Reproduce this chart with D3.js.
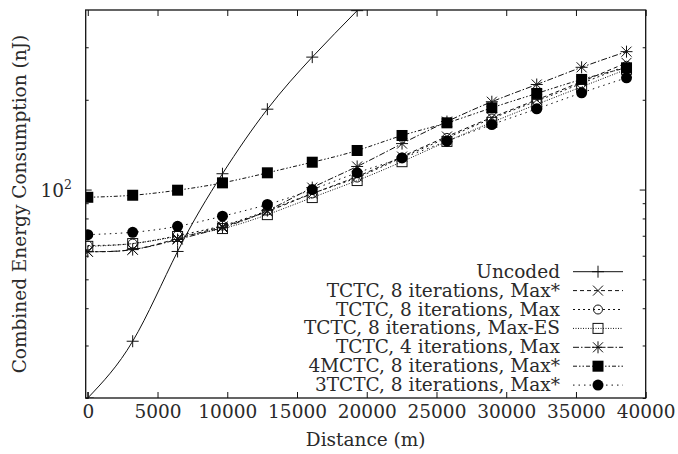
<!DOCTYPE html>
<html>
<head>
<meta charset="utf-8">
<script src="https://cdn.jsdelivr.net/npm/d3@7/dist/d3.min.js"></script>
<style>
  body { margin: 0; background: #fff; }
  svg { display: block; }
  text { font-family: "DejaVu Serif", "Liberation Serif", serif; fill: #2a2a2a; }
</style>
</head>
<body>
<div id="chart"></div>
<script>
// distances: points every 2 miles
const distances = [0, 3218.7, 6437.4, 9656.1, 12874.8, 16093.4, 19312.1,
                   22530.8, 25749.5, 28968.2, 32186.9, 35405.6, 38624.3];

const uncoded     = [20, 31, 62, 113, 186, 278, 398];
const tctc8MaxS   = [61.9, 62.9, 68.5, 75.2, 84.4, 96.9, 110.6, 129, 150.6, 174.4, 200, 230, 266];
const tctc8Max    = [64.9, 65.9, 70.1, 75.7, 85.0, 97.0, 109.7, 128, 149, 173, 198, 227, 260];
const tctc8MaxES  = [64.5, 65.9, 69.6, 74.0, 82.4, 94.0, 107.2, 124, 145, 168, 193, 221, 253];
const tctc4Max    = [61.9, 62.9, 68.0, 74.6, 85.0, 101.5, 119.5, 142.6, 169, 197, 225, 257, 290];
const mctc4MaxS   = [94.2, 95.7, 99.5, 105.3, 113.8, 123.5, 135.2, 151.8, 167.4, 188, 210, 234, 256];
const tctc3MaxS   = [70.6, 71.9, 75.3, 81.4, 89.1, 100, 113.8, 127.7, 145.3, 165.2, 186.5, 211, 237];

const seriesNames = ["Uncoded", "TCTC, 8 iterations, Max*", "TCTC, 8 iterations, Max",
  "TCTC, 8 iterations, Max-ES", "TCTC, 4 iterations, Max",
  "4MCTC, 8 iterations, Max*", "3TCTC, 8 iterations, Max*"];
const seriesValues = [uncoded, tctc8MaxS, tctc8Max, tctc8MaxES, tctc4Max, mctc4MaxS, tctc3MaxS];

const xTickValues = [0, 5000, 10000, 15000, 20000, 25000, 30000, 35000, 40000];
const yMajorTicks = [100];
const yMinorTicks = [20, 30, 40, 50, 60, 70, 80, 90, 200, 300];

const styles = [
  {marker: "plus",    dash: null},
  {marker: "cross",   dash: "4,3"},
  {marker: "circle",  dash: "2,3"},
  {marker: "square",  dash: "1,1.5"},
  {marker: "star",    dash: "6,2,1.5,2"},
  {marker: "fsquare", dash: "4,2,1.5,2,1.5,2"},
  {marker: "fcircle", dash: "1.5,4"}
];

const W = 678, H = 454;
const pLeft = 85.7, pRight = 645.7, pTop = 10, pBottom = 398;
const FS = 18.5;

const svg = d3.select("#chart").append("svg").attr("width", W).attr("height", H);

const x = d3.scaleLinear().domain([-150, 40000]).range([pLeft, pRight]);
const y = d3.scaleLog().domain([20, 400]).range([pBottom, pTop]);

svg.append("defs").append("clipPath").attr("id", "clip")
  .append("rect").attr("x", pLeft).attr("y", pTop)
  .attr("width", pRight - pLeft).attr("height", pBottom - pTop);

// axes with inward ticks
function styleAxis(g) {
  g.select(".domain").remove();
  g.selectAll(".tick line").attr("stroke", "#111").attr("stroke-width", 1);
  g.selectAll("text").attr("font-size", FS).attr("fill", "#2a2a2a").attr("font-family", "DejaVu Serif, serif");
}
svg.append("g").attr("transform", `translate(0,${pBottom})`)
  .call(d3.axisBottom(x).tickValues(xTickValues).tickSize(-6).tickPadding(7).tickFormat(d3.format("d")))
  .call(styleAxis);
svg.append("g").attr("transform", `translate(0,${pTop})`)
  .call(d3.axisTop(x).tickValues(xTickValues).tickSize(-6).tickFormat(""))
  .call(styleAxis);
svg.append("g").attr("transform", `translate(${pLeft},0)`)
  .call(d3.axisLeft(y).tickValues(yMajorTicks).tickSize(-6).tickFormat(""))
  .call(styleAxis);
svg.append("g").attr("transform", `translate(${pLeft},0)`)
  .call(d3.axisLeft(y).tickValues(yMinorTicks).tickSize(-3).tickFormat(""))
  .call(styleAxis);
svg.append("g").attr("transform", `translate(${pRight},0)`)
  .call(d3.axisRight(y).tickValues(yMajorTicks).tickSize(-6).tickFormat(""))
  .call(styleAxis);
svg.append("g").attr("transform", `translate(${pRight},0)`)
  .call(d3.axisRight(y).tickValues(yMinorTicks).tickSize(-3).tickFormat(""))
  .call(styleAxis);

// 10^2 label
yMajorTicks.forEach(v => {
  const t = svg.append("text").attr("x", 72).attr("y", y(v) + 7)
    .attr("text-anchor", "end").attr("font-size", FS);
  t.append("tspan").text("10");
  t.append("tspan").attr("font-size", 12.5).attr("dy", -8).text("2");
});

// axis titles
svg.append("text").attr("x", (pLeft + pRight) / 2).attr("y", 446)
  .attr("text-anchor", "middle").attr("font-size", FS).text("Distance (m)");
svg.append("text").attr("transform", `translate(25.5,${(pTop + pBottom) / 2}) rotate(-90)`)
  .attr("text-anchor", "middle").attr("font-size", FS).text("Combined Energy Consumption (nJ)");

// markers
function drawMarker(g, type, cx, cy) {
  const s = g.append("g").attr("transform", `translate(${cx},${cy})`);
  if (type === "plus") {
    s.append("path").attr("d", "M-6,0H6M0,-6V6").attr("stroke", "#111").attr("stroke-width", 1);
  } else if (type === "cross") {
    s.append("path").attr("d", "M-5,-5L5,5M-5,5L5,-5").attr("stroke", "#111").attr("stroke-width", 1);
  } else if (type === "star") {
    s.append("path").attr("d", "M-6,0H6M0,-6V6M-5,-5L5,5M-5,5L5,-5").attr("stroke", "#111").attr("stroke-width", 1);
  } else if (type === "circle") {
    s.append("circle").attr("r", 4.5).attr("fill", "none").attr("stroke", "#111").attr("stroke-width", 1);
  } else if (type === "square") {
    s.append("rect").attr("x", -5).attr("y", -5).attr("width", 10).attr("height", 10)
      .attr("fill", "none").attr("stroke", "#111").attr("stroke-width", 1);
  } else if (type === "fsquare") {
    s.append("rect").attr("x", -5.5).attr("y", -5.5).attr("width", 11).attr("height", 11).attr("fill", "#000");
  } else if (type === "fcircle") {
    s.append("circle").attr("r", 5.5).attr("fill", "#000");
  }
}

const plot = svg.append("g").attr("clip-path", "url(#clip)");
const line = d3.line().x(d => x(d[0])).y(d => y(d[1])).curve(d3.curveNatural);

seriesValues.forEach((vals, i) => {
  const pts = vals.map((v, k) => [distances[k], v]);
  plot.append("path").datum(pts).attr("d", line)
    .attr("fill", "none").attr("stroke", "#111").attr("stroke-width", 1)
    .attr("stroke-dasharray", styles[i].dash);
  pts.forEach(p => drawMarker(plot, styles[i].marker, x(p[0]), y(p[1])));
});

// legend
const legY0 = 271.7, legDy = 18.9;
seriesNames.forEach((name, i) => {
  const ly = legY0 + i * legDy;
  svg.append("text").attr("x", 560).attr("y", ly + 6).attr("text-anchor", "end")
    .attr("font-size", FS).text(name);
  svg.append("line").attr("x1", 573).attr("x2", 623).attr("y1", ly).attr("y2", ly)
    .attr("stroke", "#111").attr("stroke-width", 1).attr("stroke-dasharray", styles[i].dash);
  drawMarker(svg, styles[i].marker, 598, ly);
});

// frame
svg.append("rect").attr("x", pLeft).attr("y", pTop).attr("width", pRight - pLeft).attr("height", pBottom - pTop)
  .attr("fill", "none").attr("stroke", "#111").attr("stroke-width", 1.3);
</script>
</body>
</html>
